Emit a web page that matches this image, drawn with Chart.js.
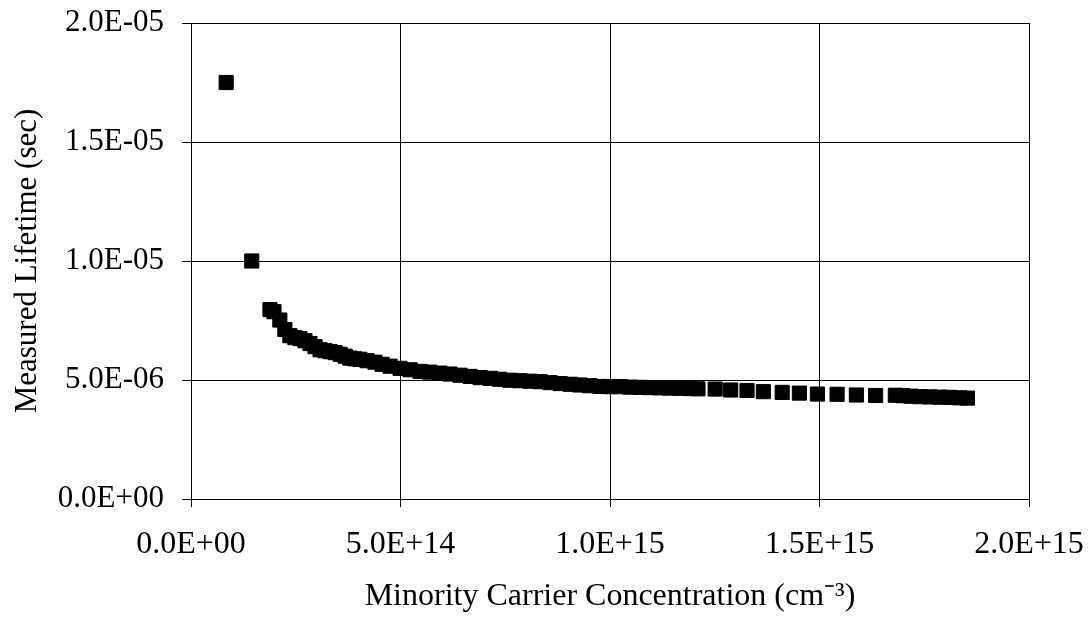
<!DOCTYPE html>
<html lang="en">
<head>
  <meta charset="UTF-8" />
  <title>Measured Lifetime vs Minority Carrier Concentration</title>
  <style>
    body {
      margin: 0;
      padding: 0;
      background: #fff;
    }
    canvas {
      display: block;
    }
  </style>
</head>
<body>
  <canvas id="grafico" width="1088" height="620"></canvas>

  <script src="https://cdn.jsdelivr.net/npm/chart.js"></script>
  <script>
    // minority carrier concentration (cm-3)
    const concentracao = [
      8.4e13, 1.45e14,
      1.885e14, 1.98e14, 2.12e14, 2.24e14, 2.36e14, 2.48e14, 2.60e14, 2.72e14,
      2.84e14, 2.96e14, 3.08e14, 3.20e14, 3.32e14, 3.44e14, 3.56e14, 3.68e14,
      3.79e14, 3.91e14, 4.03e14, 4.20e14, 4.39e14, 4.56e14, 4.75e14, 4.99e14,
      5.23e14, 5.47e14, 5.70e14, 5.94e14, 6.18e14, 6.42e14, 6.66e14, 6.90e14,
      7.14e14, 7.37e14, 7.61e14, 7.85e14, 8.09e14, 8.33e14, 8.57e14, 8.81e14,
      9.05e14, 9.28e14, 9.52e14, 9.76e14, 1.000e15, 1.024e15, 1.048e15, 1.072e15,
      1.095e15, 1.119e15, 1.143e15, 1.167e15, 1.191e15, 1.210e15,
      1.251e15, 1.288e15, 1.327e15, 1.366e15, 1.411e15, 1.452e15, 1.495e15,
      1.542e15, 1.588e15, 1.634e15,
      1.681e15, 1.699e15, 1.718e15, 1.740e15, 1.764e15, 1.788e15, 1.811e15,
      1.835e15, 1.853e15
    ];

    // measured lifetime (sec)
    const tempoVida = [
      1.75e-5, 1.0e-5,
      7.96e-6, 7.87e-6, 7.52e-6, 7.12e-6, 6.86e-6, 6.78e-6, 6.74e-6, 6.65e-6,
      6.53e-6, 6.40e-6, 6.27e-6, 6.23e-6, 6.19e-6, 6.15e-6, 6.08e-6, 6.00e-6,
      5.92e-6, 5.89e-6, 5.87e-6, 5.81e-6, 5.75e-6, 5.66e-6, 5.58e-6, 5.49e-6,
      5.43e-6, 5.36e-6, 5.33e-6, 5.29e-6, 5.25e-6, 5.20e-6, 5.15e-6, 5.10e-6,
      5.07e-6, 5.03e-6, 4.99e-6, 4.97e-6, 4.95e-6, 4.93e-6, 4.89e-6, 4.85e-6,
      4.82e-6, 4.79e-6, 4.76e-6, 4.73e-6, 4.72e-6, 4.72e-6, 4.70e-6, 4.69e-6,
      4.68e-6, 4.67e-6, 4.66e-6, 4.65e-6, 4.64e-6, 4.63e-6,
      4.62e-6, 4.58e-6, 4.56e-6, 4.51e-6, 4.48e-6, 4.45e-6, 4.41e-6,
      4.40e-6, 4.37e-6, 4.35e-6,
      4.36e-6, 4.34e-6, 4.32e-6, 4.30e-6, 4.29e-6, 4.28e-6, 4.27e-6,
      4.25e-6, 4.24e-6
    ];

    const xTicks = [0, 5e14, 1e15, 1.5e15, 2e15];
    const yTicks = [0, 5e-6, 1e-5, 1.5e-5, 2e-5];

    const fonte = "'Liberation Serif', 'Times New Roman', serif";

    // 2.0E-05 style labels
    function formatoExcel(v) {
      const partes = Number(v).toExponential(1).split("e");
      let exp = parseInt(partes[1], 10);
      const sinal = exp < 0 ? "-" : "+";
      exp = Math.abs(exp);
      return partes[0] + "E" + sinal + (exp < 10 ? "0" + exp : exp);
    }

    const pontos = concentracao.map((c, i) => ({ x: c, y: tempoVida[i] }));

    const ctx = document.getElementById("grafico").getContext("2d");
    new Chart(ctx, {
      type: "scatter",
      data: {
        datasets: [{
          label: "Lifetime",
          data: pontos,
          pointStyle: "rect",
          pointRadius: 10,
          pointHoverRadius: 10,
          backgroundColor: "#000",
          borderColor: "#000",
          borderWidth: 1
        }]
      },
      options: {
        responsive: false,
        animation: false,
        devicePixelRatio: 1,
        layout: {
          padding: { top: 23, right: 59, bottom: 0, left: 0 }
        },
        plugins: {
          legend: { display: false },
          tooltip: { enabled: false }
        },
        scales: {
          x: {
            type: "linear",
            min: 0,
            max: 2e15,
            afterBuildTicks: s => { s.ticks = xTicks.map(v => ({ value: v })); },
            afterFit: s => {
              s.height = 121;
              s.paddingLeft = 0;
              s.paddingRight = 0;
            },
            grid: { color: "#000", lineWidth: 1, tickLength: 8 },
            border: { color: "#000", width: 1 },
            ticks: {
              color: "#000",
              padding: 18,
              maxRotation: 0,
              font: { family: fonte, size: 32 },
              callback: v => formatoExcel(v)
            },
            title: {
              display: true,
              text: "Minority Carrier Concentration (cm\u207B\u00B3)",
              color: "#000",
              font: { family: fonte, size: 32 },
              padding: { top: 0, bottom: 4 }
            }
          },
          y: {
            type: "linear",
            min: 0,
            max: 2e-5,
            afterBuildTicks: s => { s.ticks = yTicks.map(v => ({ value: v })); },
            afterFit: s => {
              s.width = 191;
              s.paddingTop = 0;
              s.paddingBottom = 0;
            },
            grid: { color: "#000", lineWidth: 1, tickLength: 9 },
            border: { color: "#000", width: 1 },
            ticks: {
              color: "#000",
              padding: 18,
              font: { family: fonte, size: 31 },
              callback: v => formatoExcel(v)
            },
            title: {
              display: true,
              text: "Measured Lifetime (sec)",
              color: "#000",
              font: { family: fonte, size: 31 },
              padding: { top: 9, bottom: 9 }
            }
          }
        }
      }
    });
  </script>
</body>
</html>
